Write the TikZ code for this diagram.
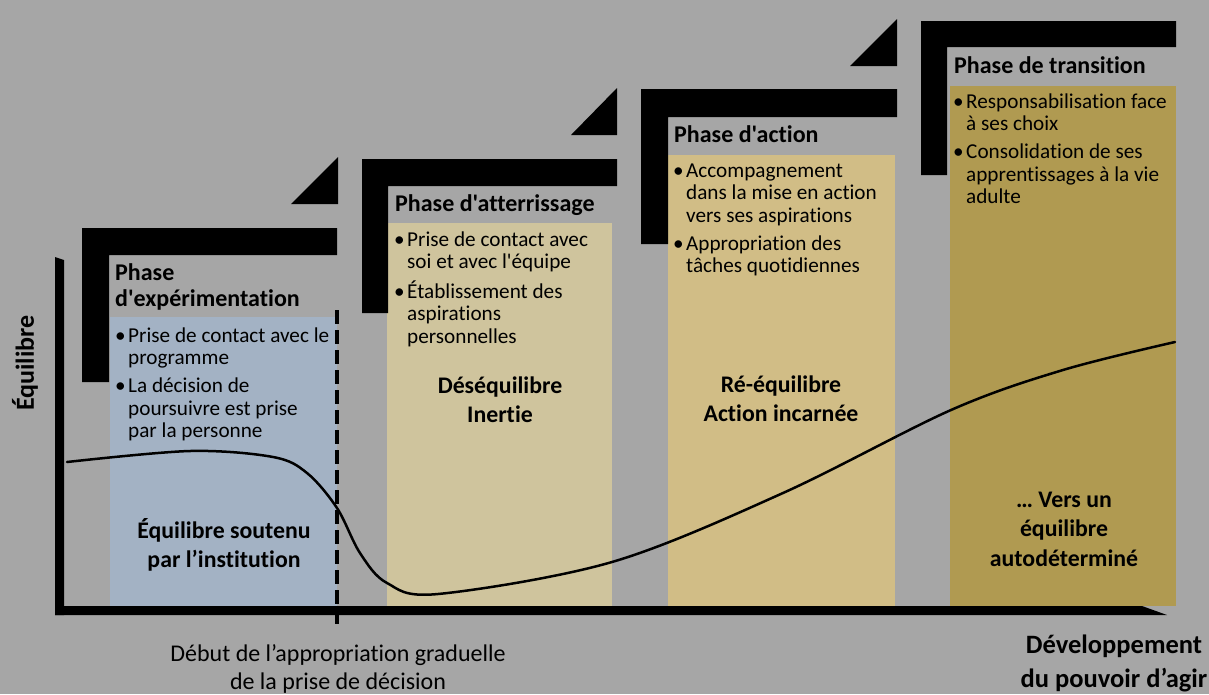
\documentclass[tikz,border=0pt]{standalone}
\usepackage{fontspec}
\setmainfont{Carlito}[Ligatures={TeXOff,NoCommon}]
\definecolor{bg}{HTML}{A6A6A6}
\definecolor{blueb}{HTML}{A3B2C4}
\definecolor{tanA}{HTML}{CFC49D}
\definecolor{tanB}{HTML}{D1BD86}
\definecolor{goldD}{HTML}{B09A51}
\newcommand{\bul}{\makebox[13pt][l]{•}}
\newcommand{\ind}{\hspace*{13pt}}
\newcommand{\rowsL}[1]{\begin{tabular}[t]{@{}l@{}}#1\end{tabular}}
\newcommand{\rowsC}[1]{\begin{tabular}[t]{@{}c@{}}#1\end{tabular}}
\tikzset{
  blk/.style={draw=none, inner sep=0pt, anchor=north west},
  bracketshape/.style={fill=black},
  titletxt/.style={inner sep=0pt, anchor=base west, font=\fontsize{24}{26}\selectfont\bfseries},
  bullettxt/.style={inner sep=0pt, anchor=base west, font=\fontsize{21.2}{22.7}\selectfont},
  centertxt/.style={inner sep=0pt, anchor=base, font=\fontsize{23.8}{29.5}\selectfont\bfseries},
  axis/.style={fill=black},
}
\begin{document}
\begin{tikzpicture}[x=1pt,y=-1pt]
\useasboundingbox (0,0) rectangle (1209,694);
\fill[bg] (0,0) rectangle (1209,694);

% colour blocks
\node[blk, fill=blueb, minimum width=227pt, minimum height=289pt] (b1) at (110,317) {};
\node[blk, fill=tanA, minimum width=225pt, minimum height=383pt] (b2) at (387,223) {};
\node[blk, fill=tanB, minimum width=227pt, minimum height=451pt] (b3) at (668,155) {};
\node[blk, fill=goldD, minimum width=226pt, minimum height=520pt] (b4) at (950,86) {};

% brackets
\fill[bracketshape] (82,228) -- (337,228) -- (337,255) -- (109,255) -- (109,382) -- (82,382) -- cycle;
\fill[bracketshape] (362,159) -- (617,159) -- (617,186) -- (388,186) -- (388,313) -- (362,313) -- cycle;
\fill[bracketshape] (641,89) -- (897,89) -- (897,117) -- (668,117) -- (668,244) -- (641,244) -- cycle;
\fill[bracketshape] (921,21) -- (1176,21) -- (1176,47) -- (947,47) -- (947,175) -- (921,175) -- cycle;

% triangles
\fill[bracketshape] (291,204) -- (338,204) -- (338,157) -- cycle;
\fill[bracketshape] (571,135) -- (617,135) -- (617,88) -- cycle;
\fill[bracketshape] (850,66) -- (897,66) -- (897,19) -- cycle;

% axes
\fill[axis] (55,257) -- (64,260) -- (64,615) -- (55,615) -- cycle;
\fill[axis] (55,606) -- (1142,606) -- (1167,615) -- (55,615) -- cycle;

% dashed line
\coordinate (dtop) at (337,310);
\coordinate (dbot) at (337,628);
\draw[line width=3.5pt, dash pattern=on 14pt off 6pt] (dtop) -- (dbot);

% curve
\draw[line width=2.5pt, line cap=round] plot[smooth, tension=0.55] coordinates {
 (67,462) (190,451) (273,457) (307,473) (337,508) (360,553) (387,583) (438,594)
 (612,562) (783,493) (951,410) (1063,370) (1175,342)};

% titles
\node[titletxt] (t1) at (115,280) {\rowsL{Phase\\d'expérimentation}};
\node[titletxt] (t2) at (395,211) {\rowsL{Phase d'atterrissage}};
\node[titletxt] (t3) at (674,142) {\rowsL{Phase d'action}};
\node[titletxt] (t4) at (954,73) {\rowsL{Phase de transition}};

% bullets
\node[bullettxt] (l1) at (115,342) {\rowsL{\bul Prise de contact avec le\\\ind programme\\[5pt]\bul La décision de\\\ind poursuivre est prise\\\ind par la personne}};
\node[bullettxt] (l2) at (394,246) {\rowsL{\bul Prise de contact avec\\\ind soi et avec l'équipe\\[5pt]\bul Établissement des\\\ind aspirations\\\ind personnelles}};
\node[bullettxt] (l3) at (673,177) {\rowsL{\bul Accompagnement\\\ind dans la mise en action\\\ind vers ses aspirations\\[5pt]\bul Appropriation des\\\ind tâches quotidiennes}};
\node[bullettxt] (l4) at (953,108) {\rowsL{\bul Responsabilisation face\\\ind à ses choix\\[5pt]\bul Consolidation de ses\\\ind apprentissages à la vie\\\ind adulte}};

% centre texts
\node[centertxt] (c1) at (224,538) {\rowsC{Équilibre soutenu\\par l’institution}};
\node[centertxt] (c2) at (500,393) {\rowsC{Déséquilibre\\Inertie}};
\node[centertxt] (c3) at (781,392) {\rowsC{Ré-équilibre\\Action incarnée}};
\node[centertxt] (c4) at (1064,507) {\rowsC{… Vers un\\équilibre\\autodéterminé}};

% axis labels
\node[inner sep=0pt, anchor=base, font=\fontsize{24}{28}\selectfont] (xl1) at (338,661) {\rowsC{Début de l’appropriation graduelle\\de la prise de décision}};
\node[inner sep=0pt, anchor=base, font=\fontsize{26.5}{34}\selectfont\bfseries] (xl2) at (1114,653) {\rowsC{Développement\\du pouvoir d’agir}};
\node[inner sep=0pt, rotate=90, font=\fontsize{26}{26}\selectfont\bfseries] (yl) at (25,363) {Équilibre};
\end{tikzpicture}
\end{document}
